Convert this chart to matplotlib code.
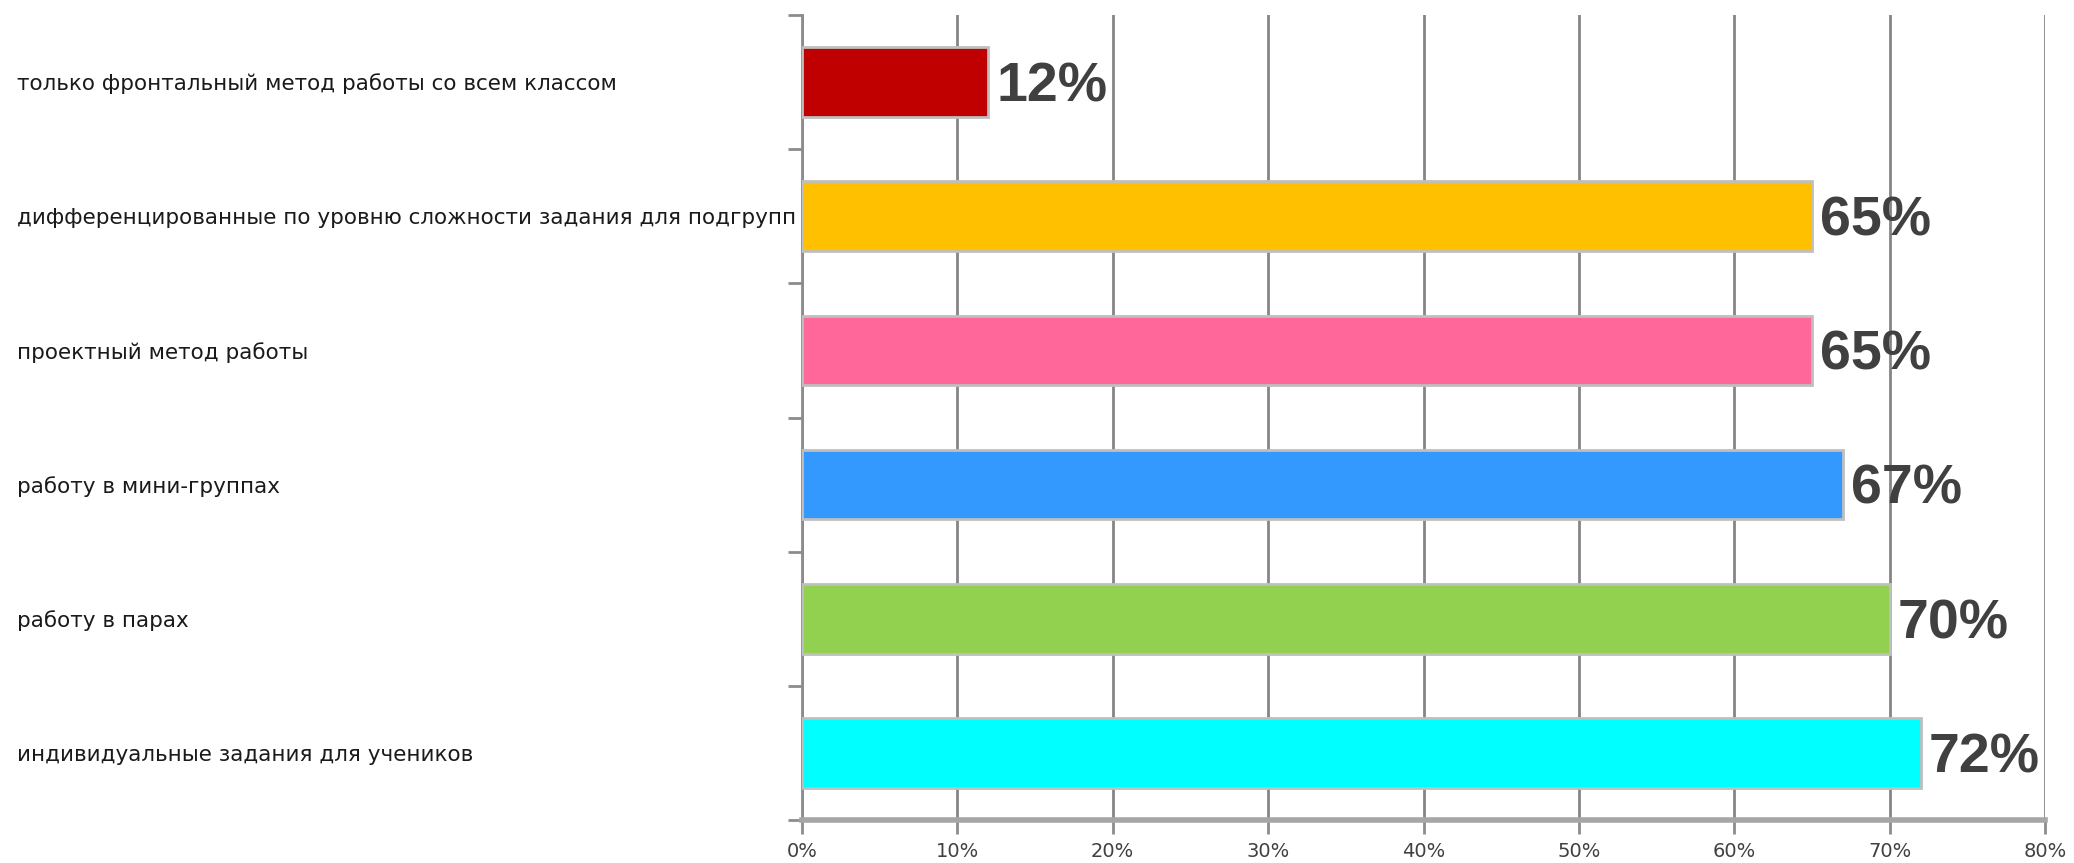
import matplotlib
matplotlib.use("Agg")
import matplotlib.pyplot as plt
import numpy as np
from matplotlib.ticker import FixedLocator

categories = [
    "только фронтальный метод работы со всем классом",
    "дифференцированные по уровню сложности задания для подгрупп",
    "проектный метод работы",
    "работу в мини-группах",
    "работу в парах",
    "индивидуальные задания для учеников",
]
values = [12, 65, 65, 67, 70, 72]
colors = ["#C00000", "#FFC000", "#FF6699", "#3399FF", "#92D050", "#00FFFF"]
xticks = [0, 10, 20, 30, 40, 50, 60, 70, 80]
xticklabels = ["0%", "10%", "20%", "30%", "40%", "50%", "60%", "70%", "80%"]

W, H, DPI = 2074, 863, 100
fig = plt.figure(figsize=(W / DPI, H / DPI), dpi=DPI)
fig.patch.set_facecolor("white")
left, right, top, bottom = 802, 2045, 15, 820
ax = fig.add_axes([left / W, 1 - bottom / H, (right - left) / W, (bottom - top) / H])

ypos = np.arange(len(categories))
ax.set_axisbelow(True)
ax.barh(ypos, values, height=0.52, color=colors, edgecolor="#BFBFBF", linewidth=2, zorder=3)

for y, v in zip(ypos, values):
    ax.text(v + 0.5, y + 0.04, f"{v}%", va="center", ha="left",
            fontsize=40, fontweight="bold", color="#404040",
            family=["Liberation Sans", "DejaVu Sans"], zorder=4)

ax.set_xlim(0, 80)
ax.set_ylim(len(categories) - 0.5, -0.5)

ax.set_xticks(xticks)
ax.set_xticklabels(xticklabels, fontsize=14, color="#404040")
ax.tick_params(axis="x", length=10, width=2, color="#8C8C8C", pad=6)

ax.set_yticks(ypos)
ax.set_yticklabels(categories, fontsize=15.5, color="#1A1A1A", ha="left")
ax.tick_params(axis="y", which="major", length=0, pad=(802 - 17) / DPI * 72)
ax.yaxis.set_minor_locator(FixedLocator(np.arange(-0.5, len(categories), 1.0)))
ax.tick_params(axis="y", which="minor", length=10, width=2, color="#8C8C8C")

ax.grid(axis="x", color="#858585", linewidth=2)
for s in ["top", "right"]:
    ax.spines[s].set_visible(False)
ax.spines["left"].set_color("#8C8C8C")
ax.spines["left"].set_linewidth(2)
ax.spines["bottom"].set_color("#A6A6A6")
ax.spines["bottom"].set_linewidth(4)

fig.savefig("out.png", dpi=DPI, facecolor="white")
